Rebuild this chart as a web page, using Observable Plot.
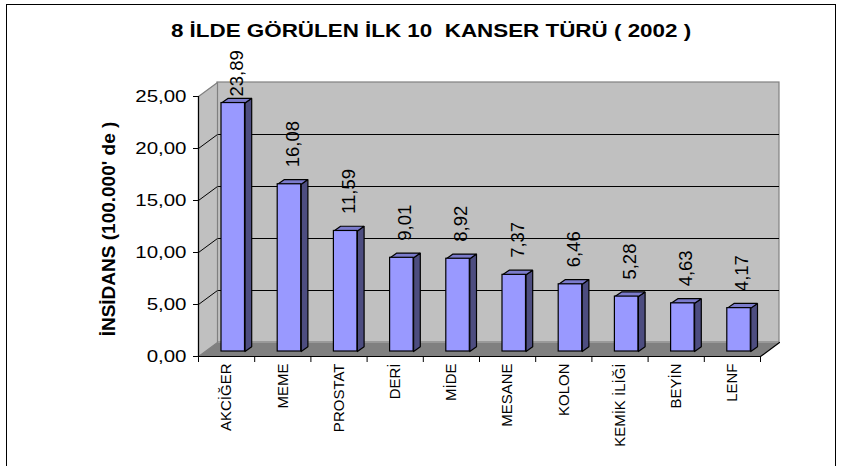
<!DOCTYPE html>
<html><head><meta charset="utf-8">
<script src="https://cdn.jsdelivr.net/npm/d3@7"></script>
<script src="https://cdn.jsdelivr.net/npm/@observablehq/plot@0.6"></script>
<style>
html,body{margin:0;padding:0;background:#fff;}
#wrap{position:relative;width:848px;height:466px;overflow:hidden;background:#fff;}
#wrap svg{position:absolute;left:0;top:0;}
#border{position:absolute;left:6px;top:4px;width:830px;height:520px;border:1.5px solid #000;box-sizing:border-box;pointer-events:none;}
svg text{white-space:pre;}
</style></head><body>
<div id="wrap"><div id="border"></div></div>
<script>
// ---- data ----
const title = "8 İLDE GÖRÜLEN İLK 10  KANSER TÜRÜ ( 2002 )";
const yTitle = "İNSİDANS (100.000' de )";
const categories = ["AKCİĞER", "MEME", "PROSTAT", "DERİ", "MİDE", "MESANE", "KOLON", "KEMİK İLİĞİ", "BEYİN", "LENF"];
const values = [23.89, 16.08, 11.59, 9.01, 8.92, 7.37, 6.46, 5.28, 4.63, 4.17];
const yTicks = [0, 5, 10, 15, 20, 25];

// ---- layout ----
const W = 848, H = 466;
const M = {left: 198, right: 88, top: 96, bottom: 110};
const nSlots = categories.length;
const yMax = 25;
const xUnit = (W - M.left - M.right) / nSlots;
const yUnit = (H - M.top - M.bottom) / yMax;
const ux = px => px / xUnit, uy = px => px / yUnit;
const WALL = {dx: 19, dy: 14};
const BAR = {offset: 23, width: 23.5, base: 5, dx: 6.7, dy: 4.7};
const LABEL_GAP = 17;
const fmt = v => v.toFixed(2).replace(".", ",");

const rows = categories.map((c, i) => ({c, i, v: values[i]}));
const geom = rows.map(r => {
  const x0 = r.i + ux(BAR.offset), x1 = x0 + ux(BAR.width);
  const b = uy(BAR.base), t = b + r.v;
  return {...r, x0, x1, b, t, ddx: ux(BAR.dx), ddy: uy(BAR.dy)};
});
const poly = (id, pts) => pts.map(([x, y]) => ({id, x, y}));
const sidePolys = geom.flatMap(g => poly(g.c, [[g.x1, g.b], [g.x1, g.t], [g.x1 + g.ddx, g.t + g.ddy], [g.x1 + g.ddx, g.b + g.ddy], [g.x1, g.b]]));
const topPolys = geom.flatMap(g => poly(g.c, [[g.x0, g.t], [g.x1, g.t], [g.x1 + g.ddx, g.t + g.ddy], [g.x0 + g.ddx, g.t + g.ddy], [g.x0, g.t]]));
const wx = ux(WALL.dx), wy = uy(WALL.dy);
const sideWall = poly("side", [[0, 0], [0, yMax], [wx, yMax + wy], [wx, wy], [0, 0]]);
const floor = poly("floor", [[0, 0], [nSlots, 0], [nSlots + wx, wy], [wx, wy], [0, 0]]);
const floorEdge = poly("edge", [[0, 0], [nSlots, 0], [nSlots + wx, wy]]);
const inner = yTicks.filter(t => t > 0 && t < yMax);

const plot = Plot.plot({
  width: W, height: H,
  marginLeft: M.left, marginRight: M.right, marginTop: M.top, marginBottom: M.bottom,
  style: {background: "transparent", fontFamily: "'Liberation Sans', Arial, sans-serif", fontSize: "16px", color: "#000", overflow: "visible"},
  x: {type: "linear", domain: [0, nSlots], ticks: d3.range(0, nSlots + 1), tickFormat: () => "", tickSize: 6, label: null},
  y: {type: "linear", domain: [0, yMax], ticks: yTicks, tickFormat: fmt, tickSize: 5, tickPadding: 7, label: null},
  marks: [
    Plot.rect([{}], {x1: () => 0, x2: () => nSlots, y1: () => 0, y2: () => yMax, dx: WALL.dx, dy: -WALL.dy, fill: "#c0c0c0", stroke: "#808080", strokeWidth: 1.2}),
    Plot.ruleY(inner, {x1: () => 0, x2: () => nSlots, dx: WALL.dx, dy: -WALL.dy, stroke: "#000", strokeWidth: 1}),
    Plot.line(sideWall, {x: "x", y: "y", z: "id", fill: "#c0c0c0", stroke: "#808080", strokeWidth: 1.2, curve: "linear"}),
    Plot.link(inner, {x1: () => 0, y1: t => t, x2: () => wx, y2: t => t + wy, stroke: "#000", strokeWidth: 1}),
    Plot.line(floor, {x: "x", y: "y", z: "id", fill: "#808080", stroke: "none"}),
    Plot.line(floorEdge, {x: "x", y: "y", z: "id", stroke: "#000", strokeWidth: 1.2}),
    Plot.ruleX([0], {y1: () => 0, y2: () => yMax, stroke: "#000", strokeWidth: 1.2}),
    Plot.line(sidePolys, {x: "x", y: "y", z: "id", fill: "#4d4d80", stroke: "#000", strokeWidth: 1.2, strokeLinejoin: "miter"}),
    Plot.line(topPolys, {x: "x", y: "y", z: "id", fill: "#7b7bcc", stroke: "#000", strokeWidth: 1.2, strokeLinejoin: "miter"}),
    Plot.rect(geom, {x1: "x0", x2: "x1", y1: "b", y2: "t", fill: "#9999ff", stroke: "#000", strokeWidth: 1.2}),
    Plot.text(geom, {x: g => g.i + ux(BAR.offset + (BAR.width + BAR.dx) / 2), y: g => Math.min(g.t + uy(LABEL_GAP), yMax), text: g => fmt(g.v), rotate: -90, textAnchor: "start", lineAnchor: "middle", fontSize: 18.5}),
    Plot.text(rows, {x: r => r.i + 0.5, y: () => 0, text: "c", rotate: -90, textAnchor: "end", lineAnchor: "middle", dy: 7, fontSize: 15}),
    Plot.text([yTitle], {text: d => d, frameAnchor: "left", dx: -90, dy: 2.5, rotate: -90, textAnchor: "middle", lineAnchor: "middle", fontSize: 19, fontWeight: "bold"}),
    Plot.text([title], {text: d => d, frameAnchor: "top", dx: -48.5, dy: -65.6, textAnchor: "middle", lineAnchor: "middle", fontSize: 17.5, fontWeight: "bold"})
  ]
});
document.getElementById("wrap").appendChild(plot);

// horizontal texts in the reference are drawn wider than tall
const STRETCH = 1.28;
plot.querySelectorAll("text").forEach(t => {
  const m = t.getCTM();
  if (!m || Math.abs(m.b) > 1e-6) return;
  const L = t.getComputedTextLength();
  if (L > 0) {
    t.setAttribute("textLength", L * STRETCH);
    t.setAttribute("lengthAdjust", "spacingAndGlyphs");
  }
});
</script>
</body></html>
